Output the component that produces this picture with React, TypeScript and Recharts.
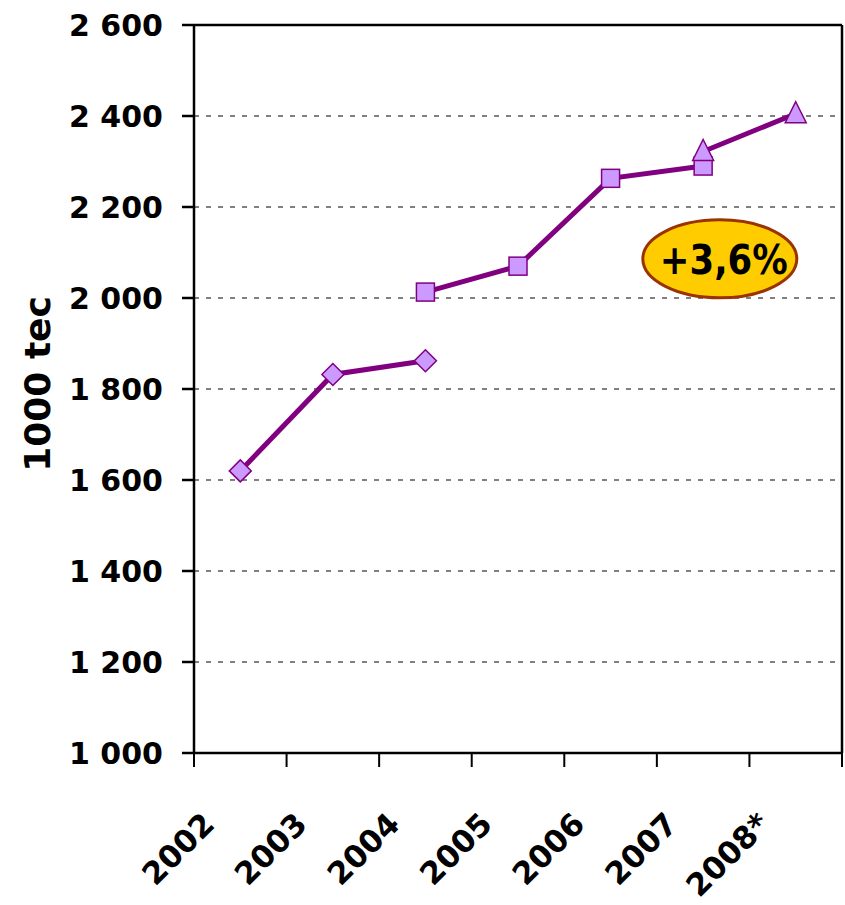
import React from 'react'
import {
  CartesianGrid,
  Line,
  LineChart,
  ReferenceDot,
  ReferenceLine,
  XAxis,
  YAxis,
} from 'recharts'

const categories = ['2002', '2003', '2004', '2005', '2006', '2007', '2008*']
const diamondSeries = [1620, 1832, 1862, null, null, null, null]
const squareSeries = [null, null, 2013, 2070, 2263, 2290, null]
const triangleSeries = [null, null, null, null, null, 2322, 2405]
const yTicks = [1000, 1200, 1400, 1600, 1800, 2000, 2200, 2400, 2600]
const growthLabel = '+3,6%'
const growthPos = { x: 5.68, y: 2086 }

const FONT = 'DejaVu Sans'
const PURPLE = '#800080'
const LILAC = '#CC99FF'

// x sits in the middle of each category slot, so tick marks can go on the slot edges
const data = categories.map((c, i) => ({
  x: i + 0.5,
  diamond: diamondSeries[i],
  square: squareSeries[i],
  triangle: triangleSeries[i],
}))
const xTicks = categories.flatMap((_, i) => [i, i + 0.5]).concat(categories.length)

const fmt = (v: number) => String(v).replace(/\B(?=(\d{3})+(?!\d))/g, ' ')

function XTick(props: any) {
  const { x, y, payload } = props
  const v = payload.value
  if (Number.isInteger(v)) {
    return <line x1={x} y1={y} x2={x} y2={y + 14} stroke="#000" strokeWidth={2} />
  }
  const ax = x - 24
  const ay = y + 73
  return (
    <text
      x={ax}
      y={ay}
      textAnchor="end"
      transform={`rotate(-45 ${ax} ${ay})`}
      fontFamily={FONT}
      fontWeight="bold"
      fontSize={31}
      fill="#000"
    >
      {categories[Math.floor(v)]}
    </text>
  )
}

function YTitle() {
  return (
    <text
      x={50}
      y={384}
      textAnchor="middle"
      transform="rotate(-90 50 384)"
      fontFamily={FONT}
      fontWeight="bold"
      fontSize={36}
      fill="#000"
    >
      1000 tec
    </text>
  )
}

const empty = (key: any) => <g key={key} />

function Diamond(p: any) {
  if (p.value == null || p.cy == null) return empty(p.key)
  const { cx, cy } = p
  const r = 11
  return (
    <polygon
      key={p.key}
      points={`${cx},${cy - r} ${cx + r},${cy} ${cx},${cy + r} ${cx - r},${cy}`}
      fill={LILAC}
      stroke={PURPLE}
      strokeWidth={1.5}
    />
  )
}

function Square(p: any) {
  if (p.value == null || p.cy == null) return empty(p.key)
  const s = 18
  return (
    <rect
      key={p.key}
      x={p.cx - s / 2}
      y={p.cy - s / 2}
      width={s}
      height={s}
      fill={LILAC}
      stroke={PURPLE}
      strokeWidth={1.5}
    />
  )
}

function Triangle(p: any) {
  if (p.value == null || p.cy == null) return empty(p.key)
  const { cx, cy } = p
  return (
    <polygon
      key={p.key}
      points={`${cx},${cy - 12} ${cx + 10.5},${cy + 9} ${cx - 10.5},${cy + 9}`}
      fill={LILAC}
      stroke={PURPLE}
      strokeWidth={1.5}
    />
  )
}

function Growth(p: any) {
  const { cx, cy } = p
  return (
    <g>
      <ellipse cx={cx} cy={cy} rx={77} ry={39} fill="#FFCC00" stroke="#993300" strokeWidth={3} />
      <text
        x={cx + 4}
        y={cy + 15}
        textAnchor="middle"
        fontFamily={FONT}
        fontWeight="bold"
        fontSize={40}
        textLength={128}
        lengthAdjust="spacingAndGlyphs"
        fill="#000"
      >
        {growthLabel}
      </text>
    </g>
  )
}

export default function App() {
  return (
    <div style={{ position: 'absolute', left: 0, top: 0 }}>
      <LineChart
        width={845}
        height={905}
        data={data}
        margin={{ top: 25, right: 3, bottom: 12, left: 0 }}
      >
        <CartesianGrid vertical={false} stroke="#808080" strokeWidth={2} strokeDasharray="5 7" />
        <XAxis
          type="number"
          dataKey="x"
          domain={[0, categories.length]}
          ticks={xTicks}
          interval={0}
          tick={<XTick />}
          tickLine={false}
          tickSize={0}
          tickMargin={0}
          height={140}
          axisLine={{ stroke: '#000', strokeWidth: 2.5 }}
        />
        <YAxis
          type="number"
          domain={[1000, 2600]}
          ticks={yTicks}
          interval={0}
          width={194}
          tickFormatter={fmt}
          tickSize={12}
          tickMargin={19}
          tick={{ fill: '#000', fontFamily: FONT, fontWeight: 'bold', fontSize: 30 }}
          tickLine={{ stroke: '#000', strokeWidth: 2.5 }}
          axisLine={{ stroke: '#000', strokeWidth: 2.5 }}
          label={<YTitle />}
        />
        <ReferenceLine y={2600} stroke="#000" strokeWidth={2.5} />
        <ReferenceLine x={categories.length} stroke="#000" strokeWidth={2.5} />
        <Line
          dataKey="diamond"
          stroke={PURPLE}
          strokeWidth={5}
          dot={Diamond}
          activeDot={false}
          isAnimationActive={false}
        />
        <Line
          dataKey="square"
          stroke={PURPLE}
          strokeWidth={5}
          dot={Square}
          activeDot={false}
          isAnimationActive={false}
        />
        <Line
          dataKey="triangle"
          stroke={PURPLE}
          strokeWidth={5}
          dot={Triangle}
          activeDot={false}
          isAnimationActive={false}
        />
        <ReferenceDot x={growthPos.x} y={growthPos.y} shape={Growth} />
      </LineChart>
    </div>
  )
}
